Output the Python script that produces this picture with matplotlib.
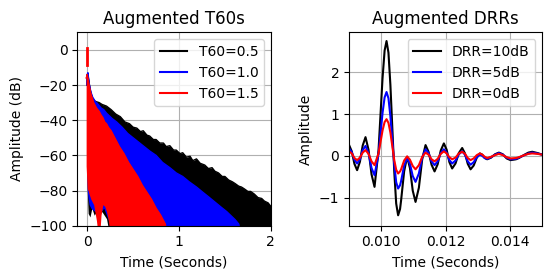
import matplotlib
matplotlib.use("Agg")
import matplotlib.pyplot as plt

# ---- left panel: decay envelopes (dB) ----
t60_labels = ["T60=0.5", "T60=1.0", "T60=1.5"]
t60_colors = ["black", "blue", "red"]

# black (T60=0.5)
t_k = [-0.004, 0.0, 0.01, 0.03, 0.05, 0.076, 0.10, 0.13, 0.16, 0.21,
       0.26, 0.31, 0.36, 0.41, 0.46, 0.50, 0.54, 0.58, 0.61, 0.65,
       0.68, 0.72, 0.75, 0.79, 0.83, 0.86, 0.90, 0.94, 0.97, 1.01,
       1.04, 1.08, 1.12, 1.15, 1.19, 1.23, 1.28, 1.32, 1.36, 1.39,
       1.43, 1.47, 1.50, 1.54, 1.58, 1.61, 1.65, 1.68, 1.71, 1.75,
       1.78, 1.82, 1.86, 1.90, 1.93, 1.97, 2.00, 2.05]
top_k = [-20, -14, -15, -22, -27, -29, -29.5, -30, -31, -32,
         -34, -36.5, -38, -41, -42, -44, -44.5, -46.5, -46, -48.5,
         -49, -51, -51, -53, -53, -55, -54.5, -57, -57, -59,
         -58.5, -61, -60.5, -63, -62, -64.5, -65.5, -67.5, -67, -69,
         -70, -72, -72, -74, -75, -76, -77.5, -78, -79, -80.5,
         -80.5, -82, -84, -84.5, -86, -87, -89, -90]
bot_k = [-60, -80, -93, -95, -90, -94, -92, -93, -92, -96,
         -110, -110, -110, -110, -110, -110, -110, -110, -110, -110,
         -110, -110, -110, -110, -110, -110, -110, -110, -110, -110,
         -110, -110, -110, -110, -110, -110, -110, -110, -110, -110,
         -110, -110, -110, -110, -110, -110, -110, -110, -110, -110,
         -110, -110, -110, -110, -110, -110, -110, -110]

# blue (T60=1.0)
t_b = [-0.004, 0.0, 0.008, 0.02, 0.04, 0.06, 0.09, 0.12, 0.15, 0.18,
       0.21, 0.24, 0.27, 0.32, 0.38, 0.44, 0.50, 0.56, 0.62, 0.68,
       0.75, 0.82, 0.90, 0.97, 1.04, 1.11, 1.19, 1.26, 1.32, 1.39,
       1.46, 1.52, 1.57, 1.61, 1.65, 1.67]
top_b = [-20, -14, -13, -19, -24, -27, -29.5, -31, -33, -34,
         -36, -37.5, -39, -41, -44, -47.5, -50, -52.5, -55, -57.5,
         -60, -64, -67, -70, -72, -75, -78, -81, -83.5, -86.5,
         -89.5, -92, -94.5, -96.5, -99, -105]
bot_b = [-70, -80, -84, -88, -90, -91, -92, -95, -92, -90,
         -94, -98, -110, -110, -110, -110, -110, -110, -110, -110,
         -110, -110, -110, -110, -110, -110, -110, -110, -110, -110,
         -110, -110, -110, -110, -110, -110]

# red (T60=1.5)
t_r = [-0.012, -0.004, 0.0, 0.01, 0.02, 0.04, 0.07, 0.10, 0.13, 0.15,
       0.17, 0.19, 0.21, 0.23, 0.26, 0.30, 0.35, 0.40, 0.45, 0.50,
       0.55, 0.60, 0.65, 0.70, 0.75, 0.80, 0.85, 0.87]
top_r = [-16, -15, -14, -17, -20, -25, -30, -33, -35, -37,
         -38.5, -41, -42, -44, -46, -50, -55, -59, -64, -68,
         -72, -77, -81, -85, -90, -94, -99, -105]
bot_r = [-66, -75, -79, -80, -82, -85, -88, -97, -110, -94,
         -88, -89, -92, -97, -110, -110, -110, -110, -110, -110,
         -110, -110, -110, -110, -110, -110, -110, -110]

# direct-sound spike at the start (red)
spike_t = [-0.008, -0.008]
spike_db = [1, -8.5]

# ---- right panel: early part of the impulse responses ----
drr_labels = ["DRR=10dB", "DRR=5dB", "DRR=0dB"]
t_drr = [0.009000, 0.009083, 0.009166, 0.009249, 0.009336, 0.009423,
         0.009510, 0.009603, 0.009697, 0.009790, 0.009914, 0.010039,
         0.010103, 0.010163, 0.010223, 0.010283, 0.010403, 0.010463,
         0.010523, 0.010583, 0.010616, 0.010710,
         0.010803, 0.010890, 0.010977, 0.011064, 0.011168, 0.011271,
         0.011375, 0.011468, 0.011562, 0.011655, 0.011751, 0.011848,
         0.011944, 0.012030, 0.012116, 0.012202, 0.012306, 0.012409,
         0.012513, 0.012600, 0.012687, 0.012774, 0.012870, 0.012967,
         0.013063, 0.013139, 0.013214, 0.013290, 0.013411, 0.013533,
         0.013654, 0.013775, 0.013896, 0.014017, 0.014185, 0.014275,
         0.014450, 0.014570, 0.014689, 0.014850, 0.015000]
drr_10 = [0.26, 0.11, -0.19, -0.34, -0.14, 0.25,
          0.45, 0.15, -0.44, -0.74, 0.13, 1.86,
          2.52, 2.75, 2.47, 1.70, -0.37, -1.14,
          -1.42, -1.27, -1.06, -0.37,
          -0.02, -0.29, -0.83, -1.10, -0.76, -0.08,
          0.26, 0.10, -0.21, -0.37, -0.20, 0.13,
          0.30, 0.15, -0.15, -0.30, -0.18, 0.07,
          0.19, 0.06, -0.19, -0.32, -0.23, -0.04,
          0.06, 0.03, -0.05, -0.08, -0.04, 0.04,
          0.08, 0.04, -0.06, -0.10, -0.08, -0.05,
          0.03, 0.08, 0.10, 0.07, 0.03]
drr_5 = [0.18, 0.09, -0.09, -0.18, -0.08, 0.14,
         0.24, 0.07, -0.29, -0.46, 0.04, 1.03,
         1.40, 1.53, 1.38, 0.95, -0.20, -0.63,
         -0.78, -0.70, -0.60, -0.23,
         -0.05, -0.19, -0.48, -0.62, -0.42, -0.04,
         0.16, 0.07, -0.13, -0.22, -0.13, 0.07,
         0.16, 0.08, -0.10, -0.18, -0.11, 0.04,
         0.11, 0.03, -0.13, -0.21, -0.15, -0.03,
         0.03, 0.00, -0.05, -0.07, -0.03, 0.03,
         0.07, 0.03, -0.04, -0.08, -0.07, -0.04,
         0.02, 0.06, 0.08, 0.06, 0.03]
drr_0 = [0.11, 0.06, -0.05, -0.10, -0.04, 0.08,
         0.14, 0.05, -0.13, -0.22, 0.06, 0.61,
         0.81, 0.88, 0.79, 0.56, -0.10, -0.33,
         -0.42, -0.37, -0.32, -0.11,
         -0.01, -0.09, -0.24, -0.32, -0.22, -0.02,
         0.08, 0.03, -0.08, -0.13, -0.07, 0.05,
         0.11, 0.06, -0.03, -0.08, -0.04, 0.06,
         0.10, 0.05, -0.05, -0.10, -0.06, 0.02,
         0.06, 0.03, -0.02, -0.05, -0.02, 0.02,
         0.05, 0.02, -0.03, -0.06, -0.05, -0.03,
         0.02, 0.05, 0.06, 0.05, 0.03]

fig = plt.figure(figsize=(5.55, 2.78), dpi=100)
ax1 = fig.add_axes([0.139, 0.188, 0.349, 0.696])
ax2 = fig.add_axes([0.629, 0.188, 0.348, 0.696])

envelopes = [(t_k, top_k, bot_k), (t_b, top_b, bot_b), (t_r, top_r, bot_r)]
for (t, top, bot), col, lab in zip(envelopes, t60_colors, t60_labels):
    ax1.fill_between(t, top, bot, color=col, linewidth=0, zorder=2)
    ax1.plot(t, top, color=col, lw=1, label=lab, zorder=2)
ax1.plot(spike_t, spike_db, color="red", lw=2, zorder=2)

ax1.set_xlim(-0.11, 2)
ax1.set_ylim(-100, 10)
ax1.set_xticks([0, 1, 2])
ax1.set_yticks([0, -20, -40, -60, -80, -100])
ax1.grid(True)
ax1.set_title("Augmented T60s")
ax1.set_xlabel("Time (Seconds)")
ax1.set_ylabel("Amplitude (dB)")
leg1 = ax1.legend(loc="upper right")
for line in leg1.get_lines():
    line.set_linewidth(1.5)

for vals, col, lab in zip([drr_10, drr_5, drr_0], t60_colors, drr_labels):
    ax2.plot(t_drr, vals, color=col, label=lab)
ax2.set_xlim(0.009, 0.015)
ax2.set_ylim(-1.67, 2.96)
ax2.set_xticks([0.010, 0.012, 0.014])
ax2.set_yticks([-1, 0, 1, 2])
ax2.grid(True)
ax2.set_title("Augmented DRRs")
ax2.set_xlabel("Time (Seconds)")
ax2.set_ylabel("Amplitude")
ax2.legend(loc="upper right")

fig.savefig("out.png", dpi=100)
